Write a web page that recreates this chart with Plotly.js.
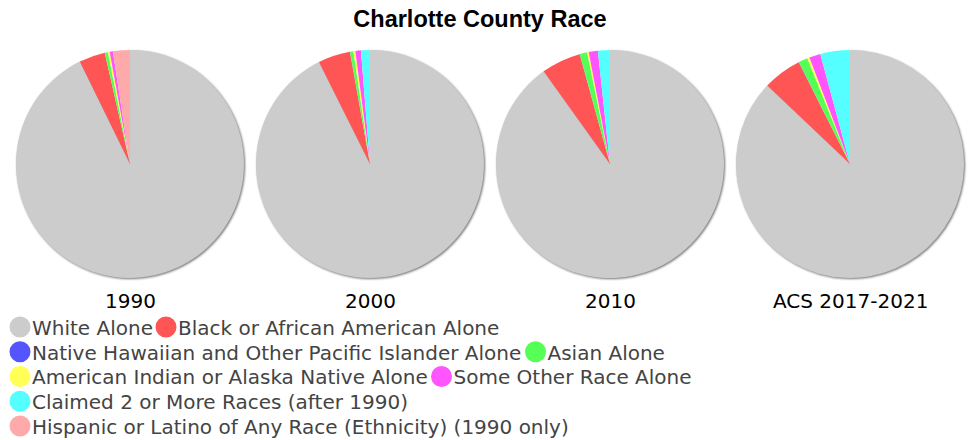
<!DOCTYPE html>
<html><head><meta charset="utf-8">
<script src="https://cdn.plot.ly/plotly-3.0.1.min.js"></script>
<style>
html,body{margin:0;padding:0;background:#fff}
#chart{width:972px;height:440px}
#chart text.legendtext{transform:translateX(-8px);}
</style></head><body><div id="chart"></div><script>
// ---- data ----
const categories = [
  'White Alone',
  'Black or African American Alone',
  'Native Hawaiian and Other Pacific Islander Alone',
  'Asian Alone',
  'American Indian or Alaska Native Alone',
  'Some Other Race Alone',
  'Claimed 2 or More Races (after 1990)',
  'Hispanic or Latino of Any Race (Ethnicity) (1990 only)'
];
const colors = ['#cccccc','#ff5555','#5555ff','#55ff55','#ffff55','#ff55ff','#55ffff','#ffaaaa'];
const periods = ['1990','2000','2010','ACS 2017-2021'];
const pct1990 = [92.75, 3.70, 0.00, 0.45, 0.25, 0.45, 0.00, 2.40];
const pct2000 = [92.60, 4.55, 0.03, 0.47, 0.28, 0.78, 1.27, 0.00];
const pct2010 = [90.20, 5.60, 0.03, 1.05, 0.22, 1.30, 1.70, 0.00];
const pctACS  = [87.10, 5.50, 0.04, 1.30, 0.30, 1.60, 4.20, 0.00];
const seriesValues = [pct1990, pct2000, pct2010, pctACS];

// legend placement (pixels in the page): one legend box per entry
const legendX = [0, 146, 0, 515.5, 0, 421.5, 0, 0];
const legendY = [327, 327, 351.75, 351.75, 376.5, 376.5, 401.25, 426];

// ---- traces ----
const data = [];
const annotations = [];
seriesValues.forEach((vals, i) => {
  data.push({
    type: 'pie',
    labels: categories,
    values: vals,
    sort: false,
    direction: 'clockwise',
    rotation: 0,
    textinfo: 'none',
    hoverinfo: 'label+percent',
    showlegend: false,
    marker: {colors: colors, line: {width: 0}},
    domain: {x: [i / 4, (i + 1) / 4], y: [0, 1]}
  });
  annotations.push({
    text: periods[i], xref: 'paper', yref: 'paper',
    x: (i + 0.5) / 4, y: -23 / 228, xanchor: 'center', yanchor: 'middle',
    showarrow: false, font: {family: 'DejaVu Sans', size: 20, color: '#000'}
  });
});

const legendNames = ['legend','legend2','legend3','legend4','legend5','legend6','legend7','legend8'];
const legendFont = {family: 'DejaVu Sans', size: 20, color: '#444'};
const legends = {};
categories.forEach((name, k) => {
  data.push({
    type: 'scatter', mode: 'markers', x: [null], y: [null],
    name: name, legend: legendNames[k], showlegend: true,
    marker: {symbol: 'circle', size: 16, color: colors[k], line: {width: 5, color: colors[k]}},
    hoverinfo: 'skip'
  });
  legends[legendNames[k]] = {
    orientation: 'h', xref: 'container', yref: 'container',
    x: legendX[k] / 972, xanchor: 'left', y: 1 - legendY[k] / 440, yanchor: 'middle',
    font: legendFont, bgcolor: 'rgba(0,0,0,0)', borderwidth: 0,
    itemclick: false, itemdoubleclick: false
  };
});

const layout = Object.assign({
  width: 972, height: 440,
  paper_bgcolor: '#fff', plot_bgcolor: '#fff',
  margin: {l: 10, r: 2, t: 50, b: 162},
  title: {text: '<b>Charlotte County Race</b>', xref: 'container', x: 480 / 972, xanchor: 'center',
          yref: 'container', y: 1 - 19 / 440, yanchor: 'middle',
          font: {family: 'Liberation Sans, Arial', size: 23.5, color: '#000'}},
  xaxis: {visible: false}, yaxis: {visible: false},
  annotations: annotations,
  showlegend: true
}, legends);

function tidy() {
  document.querySelectorAll('.pielayer .trace').forEach(t => {
    const p = t.querySelector('.slice path.surface');
    if (p) p.style.filter = 'drop-shadow(1px 1px 1px rgba(0,0,0,0.55))';
  });
  // tighten the gap between every legend marker and its label
  document.querySelectorAll('#chart svg text').forEach(t => {
    if (categories.indexOf(t.textContent.trim()) !== -1) {
      t.style.transform = 'translateX(-8px)';
    }
  });
}
Plotly.newPlot('chart', data, layout, {staticPlot: true, displayModeBar: false}).then(() => {
  tidy();
  setTimeout(tidy, 0);
  setTimeout(tidy, 150);
});
</script></body></html>
